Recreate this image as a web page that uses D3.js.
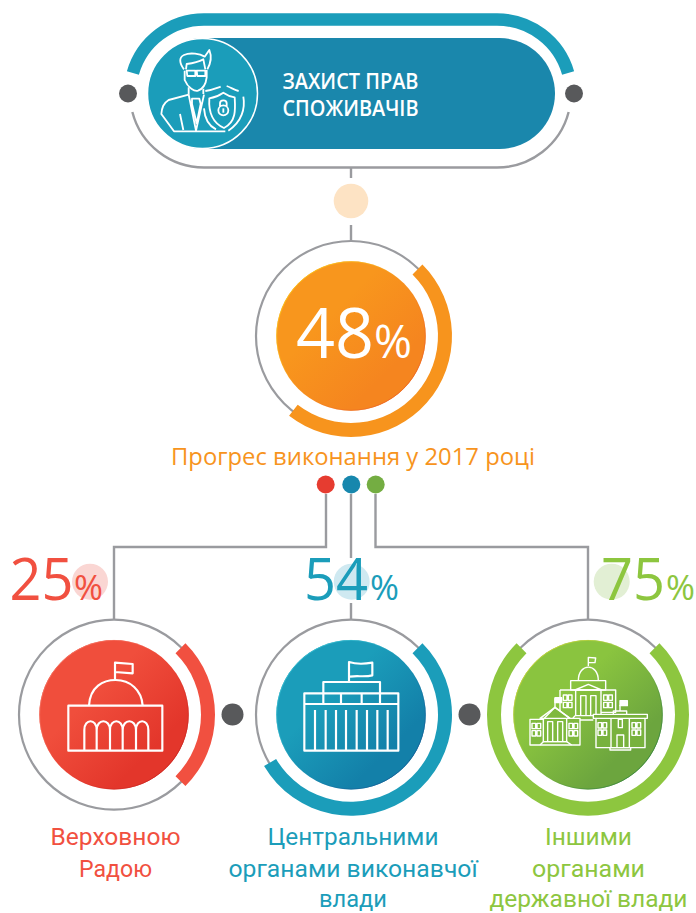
<!DOCTYPE html>
<html><head><meta charset="utf-8">
<script src="https://cdn.jsdelivr.net/npm/d3@7"></script>
<style>html,body{margin:0;padding:0;background:#fff}svg{display:block}text{font-family:"Open Sans",sans-serif}</style>
</head><body><svg id="c" width="696" height="913"></svg>
<script>
// ---- data ----
const mainValue = [48];
const groupNames = ["Верховною Радою", "Центральними органами виконавчої влади", "Іншими органами державної влади"];
const groupValues = [25, 54, 75];
const groupLines = [["Верховною", "Радою"], ["Центральними", "органами виконавчої", "влади"], ["Іншими", "органами", "державної влади"]];
const titleLines = ["ЗАХИСТ ПРАВ", "СПОЖИВАЧІВ"];
const progressLabel = ["Прогрес виконання у 2017 році"];
const palette = ["#f15040", "#1b9dba", "#8dc63f"];
const dotPalette = ["#e63c30", "#1787ad", "#74ad42"];

const svg = d3.select("#c");
const defs = svg.append("defs");
const GRAY = "#9a9b9f", DARK = "#58595b";
function grad(id, a, b) {
  const g = defs.append("linearGradient").attr("id", id).attr("x1", "15%").attr("y1", "15%").attr("x2", "85%").attr("y2", "85%");
  g.append("stop").attr("offset", "30%").attr("stop-color", a);
  g.append("stop").attr("offset", "85%").attr("stop-color", b);
}
function rim(id, a, b) {
  const g = defs.append("linearGradient").attr("id", id).attr("x1", "10%").attr("y1", "15%").attr("x2", "85%").attr("y2", "85%");
  g.append("stop").attr("offset", "0%").attr("stop-color", a);
  g.append("stop").attr("offset", "50%").attr("stop-color", a).attr("stop-opacity", 0);
  g.append("stop").attr("offset", "60%").attr("stop-color", b).attr("stop-opacity", 0);
  g.append("stop").attr("offset", "100%").attr("stop-color", b);
}
grad("gOrange", "#f8961d", "#f5851f");
grad("gRed", "#f04e3c", "#e3362b");
grad("gBlue", "#1b9dba", "#1380a9");
grad("gGreen", "#8ac43f", "#6ca53e");
rim("rOrange", "#fbc31a", "#ee6a24");
rim("rRed", "#f4705f", "#cf2a24");
rim("rBlue", "#37bccf", "#17649a");
rim("rGreen", "#c3d23a", "#3f8a40");
const fills = ["url(#gRed)", "url(#gBlue)", "url(#gGreen)"];
const rims = ["url(#rRed)", "url(#rBlue)", "url(#rGreen)"];

const angle = d3.scaleLinear().domain([0, 100]).range([0, 2 * Math.PI]);
const START = Math.PI / 4;
const ringCx = [114, 351, 588], ringCy = 714.7, mainCx = 351, mainCy = 336;

function line(pts, w) {
  svg.append("path").attr("d", d3.line()(pts)).attr("fill", "none").attr("stroke", GRAY).attr("stroke-width", w || 2.4);
}
function gauge(cx, cy, v, color, fill, rimFill) {
  const g = svg.append("g").attr("transform", `translate(${cx},${cy})`);
  g.append("circle").attr("r", 95).attr("fill", "#fff").attr("stroke", GRAY).attr("stroke-width", 2.2);
  g.append("path").attr("fill", color).attr("d", d3.arc()({innerRadius: 87, outerRadius: 101, startAngle: START, endAngle: START + angle(v)}));
  g.append("circle").attr("r", 74.7).attr("fill", fill);
  g.append("circle").attr("r", 74.3).attr("fill", "none").attr("stroke", rimFill).attr("stroke-width", 1);
}

// ---- header capsule ----
const sx0 = 204, sx1 = 497, sy = 93.5, sr = 74;
const a1 = Math.asin(20.5 / sr), a2 = Math.asin(18.5 / sr);
const topArc = d3.path();
topArc.arc(sx0, sy, sr, Math.PI + a1, 1.5 * Math.PI);
topArc.arc(sx1, sy, sr, 1.5 * Math.PI, 2 * Math.PI - a1);
svg.append("path").attr("d", topArc.toString()).attr("fill", "none").attr("stroke", "#1b9dba").attr("stroke-width", 12.5);
const botArc = d3.path();
botArc.arc(sx0, sy, sr, Math.PI - a2, Math.PI / 2, true);
botArc.arc(sx1, sy, sr, Math.PI / 2, a2, true);
svg.append("path").attr("d", botArc.toString()).attr("fill", "none").attr("stroke", GRAY).attr("stroke-width", 2.4);
svg.append("rect").attr("x", 148).attr("y", 38).attr("width", 407).attr("height", 111).attr("rx", 55.5).attr("fill", "#1a87ac");
svg.append("circle").attr("cx", 202.5).attr("cy", 93.5).attr("r", 55).attr("fill", "#1b9dba").attr("stroke", "#fff").attr("stroke-width", 1.5);
[128, 574].forEach(x => svg.append("circle").attr("cx", x).attr("cy", 93.5).attr("r", 9).attr("fill", DARK));
const titleW = [136, 136];
titleLines.forEach((t, i) => svg.append("text").attr("x", 282.5).attr("y", 89 + i * 27).attr("fill", "#fff")
  .attr("font-size", 21).attr("font-weight", 600).attr("textLength", titleW[i]).attr("lengthAdjust", "spacingAndGlyphs").text(t));

// ---- person icon ----
function icon(tx, ty, k, sw, draw) {
  const g = svg.append("g").attr("transform", `translate(${tx},${ty}) scale(${k})`)
    .attr("fill", "none").attr("stroke", "#fff").attr("stroke-width", sw).attr("stroke-linejoin", "round");
  draw(g);
}
function paths(g, list) { list.forEach(d => g.append("path").attr("d", d)); }
icon(160, 40, 1 / 3, 5.5, g => paths(g, [
  "M72,88C58,70 56,52 72,45C92,36 120,42 134,50L148,30C156,50 152,70 142,88",
  "M78,88L80,72C95,70 115,66 130,58L136,88",
  "M80,92H106V108H82ZM110,92H136V108H112ZM106,97H110",
  "M74,92V120C84,144 104,155 114,152C130,146 138,130 140,112V90",
  "M86,142V164M130,146V162",
  "M86,164L26,180C10,190 6,202 4,222L42,274H105L196,274",
  "M86,164L108,272L132,164M96,176H118L122,192L110,250L96,192Z",
  "M60,222L70,270M148,175C146,205 150,245 192,264C230,245 226,205 224,172C210,170 200,165 190,158C180,165 165,172 148,175Z",
  "M182,140C168,145 155,150 136,153M200,138C212,142 224,150 236,153M250,170C256,205 246,245 205,272M132,205C134,235 148,258 168,268",
  "M175,211a15,15 0 1,0 30,0a15,15 0 1,0 -30,0M180,198V190C180,178 200,178 200,190V198",
  "M190,205V218"
]));

// ---- connectors ----
line([[351, 167], [351, 178]]);
line([[351, 225], [351, 241]]);
svg.append("circle").attr("cx", 351).attr("cy", 201).attr("r", 17.3).attr("fill", "#fde3c4");

// ---- main gauge ----
gauge(mainCx, mainCy, mainValue[0], "#f7941d", "url(#gOrange)", "url(#rOrange)");
const pct = (x, y, w, size, color, txt) => svg.append("text").attr("x", x).attr("y", y).attr("fill", color)
  .attr("font-size", size).attr("font-weight", 400).attr("textLength", w).attr("lengthAdjust", "spacingAndGlyphs").text(txt);
pct(296, 358, 78, 69, "#fff", String(mainValue[0]));
pct(374, 358, 38, 45, "#fff", "%");
svg.append("text").attr("x", 171).attr("y", 465).attr("fill", "#f7941d").attr("font-size", 24)
  .attr("textLength", 364).attr("lengthAdjust", "spacingAndGlyphs").text(progressLabel[0]);

// ---- tree ----
line([[326, 494], [326, 547], [114, 547], [114, 620]]);
line([[351, 494], [351, 558]]);
line([[351, 603], [351, 620]]);
line([[375.5, 494], [375.5, 547], [588, 547], [588, 620]]);
[325.7, 351.3, 375.7].forEach((x, i) => svg.append("circle").attr("cx", x).attr("cy", 484.5).attr("r", 9).attr("fill", dotPalette[i]));

// ---- group gauges ----
groupValues.forEach((v, i) => gauge(ringCx[i], ringCy, v, palette[i], fills[i], rims[i]));
[232.5, 469.5].forEach(x => svg.append("circle").attr("cx", x).attr("cy", 714.5).attr("r", 11).attr("fill", DARK));

// ---- percentages ----
const haloX = [90, 351.7, 611.7], haloCol = ["#fad6d3", "#cfe9f1", "#e2efd4"];
const numX = [9.5, 304, 601], pctX = [74, 370, 666];
groupValues.forEach((v, i) => {
  svg.append("circle").attr("cx", haloX[i]).attr("cy", 581.7).attr("r", 18).attr("fill", haloCol[i]);
  pct(numX[i], 599.5, 64, 58, palette[i], String(v));
  pct(pctX[i], 599.5, 29, 34, palette[i], "%");
});

// ---- labels ----
const labelW = [[130, 73], [171, 249, 68], [87, 113, 198]];
const labelC = [115.5, 353, 588.5];
const labelY = [845, 877, 907];
groupLines.forEach((ls, i) => ls.forEach((t, j) => svg.append("text").attr("x", labelC[i]).attr("y", labelY[j])
  .attr("text-anchor", "middle").attr("fill", palette[i]).attr("font-size", 24).style("font-family", "Roboto, sans-serif")
  .attr("textLength", labelW[i][j]).attr("lengthAdjust", "spacingAndGlyphs").text(t)));

// ---- parliament icon ----
icon(0, 530, 1 / 3, 6.5, g => paths(g, [
  "M205,527H487V662H205Z",
  "M267,527C270,470 310,450 347,450C390,450 425,480 428,527",
  "M345,450V398L398,402V430L345,426",
  "M253,662V600C253,565 290,565 290,600V662M290,600C290,565 330,565 330,600V662M330,600C330,565 368,565 368,600V662M368,600C368,565 408,565 408,600V662M408,600C408,565 445,565 445,600V662"
]));
// ---- ministry icon ----
icon(240, 530, 1 / 3, 6.5, g => paths(g, [
  "M193,490H475V662H193ZM193,522H475",
  "M250,522V456H420V522M303,490V522M365,490V522",
  "M327,456V396C345,402 375,402 397,398V436C375,442 350,436 330,440",
  ...[225, 257, 288, 318, 350, 381, 412, 443].map(x => `M${x},540V662`)
]));
// ---- campus icon ----
icon(525, 650, 1 / 3, 4.2, g => {
  const win = (x, y) => paths(g, [`M${x},${y}h11v16h-11ZM${x + 15},${y}h11v16h-11ZM${x},${y + 22}h11v16h-11ZM${x + 15},${y + 22}h11v16h-11Z`]);
  paths(g, [
    "M190,48V22L212,24L210,38L190,38",
    "M160,92C160,38 220,38 220,92",
    "M137,92H242V120H137Z",
    "M150,120L190,103L230,120ZM152,120V197H228V120",
    "M167,197V137H183V197M197,197V137H213V197",
    "M105,120H272V187H228M105,120V210H55",
    "M150,197L140,210H205"
  ]);
  win(115, 135); win(236, 135);
  g.append("path").attr("d", "M15,208H55L90,172L135,205H165V285H15Z").attr("fill", "#7fb93e");
  paths(g, [
    "M55,205V275H125V205M45,205L90,172L135,205Z",
    "M68,273V215H83V273M98,273V215H113V273",
    "M90,172V145",
    "M45,285L55,275H125L140,285"
  ]);
  g.append("path").attr("d", "M90,143H110V158H90Z").attr("fill", "#fff");
  win(21, 220); win(132, 220);
  g.append("path").attr("d", "M205,193H367V205H360V293H213V205H205Z").attr("fill", "#78b23e");
  paths(g, [
    "M258,205V293M313,205V293M213,205H360",
    "M280,208h12v25h-12Z",
    "M276,293V255H296V293",
    "M265,193V183H305V193",
    "M285,183V165",
    "M255,293H317V300H255Z"
  ]);
  g.append("path").attr("d", "M285,152H307V167H285Z").attr("fill", "#fff");
  win(219, 218); win(321, 218);
});
</script></body></html>
